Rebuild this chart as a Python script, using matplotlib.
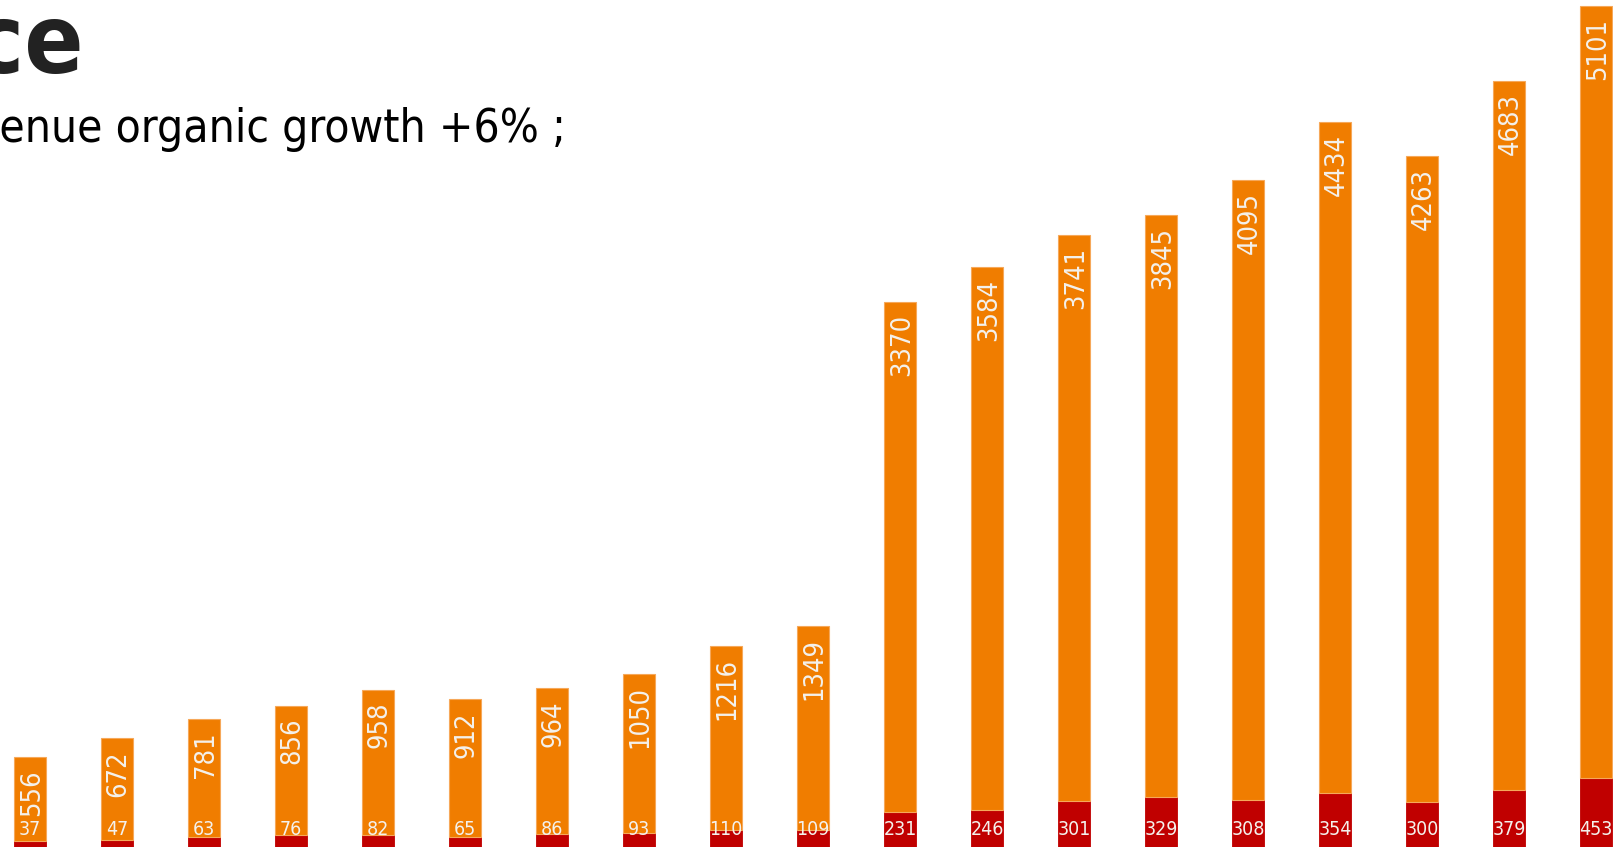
import matplotlib
matplotlib.use("Agg")
import matplotlib.pyplot as plt
import numpy as np

# Stacked values per period: upper (orange) and lower (red) segments
upper_values = [556, 672, 781, 856, 958, 912, 964, 1050, 1216, 1349,
                3370, 3584, 3741, 3845, 4095, 4434, 4263, 4683, 5101]
lower_values = [37, 47, 63, 76, 82, 65, 86, 93, 110, 109,
                231, 246, 301, 329, 308, 354, 300, 379, 453]

title_text = "Performance"
subtitle_text = "Revenue organic growth +6% ;"

ORANGE = "#F07D00"
RED = "#C00000"
LABEL = "#F4F1EC"

W, H, DPI = 1613, 847, 100
fig = plt.figure(figsize=(W / DPI, H / DPI), dpi=DPI)
ax = fig.add_axes([0, 0, 1, 1])
ax.set_axis_off()

x = np.arange(len(upper_values))
lower = np.array(lower_values)
upper = np.array(upper_values)
width = 0.364

ax.bar(x, lower, width, color=RED, edgecolor=RED, linewidth=0.6)
ax.bar(x, upper, width, bottom=lower, color=ORANGE, edgecolor="#F6A85A", linewidth=0.8)

ax.set_xlim(-0.347, 18.193)
ax.set_ylim(0, 5595)

label_font = dict(family="DejaVu Sans", stretch="condensed")

for xi, lo, up in zip(x, lower, upper):
    ax.annotate(f"{up}", (xi, lo + up), xytext=(1.5, -12), textcoords="offset pixels",
                rotation=90, ha="center", va="top", color=LABEL, fontsize=19.5,
                **label_font)
    ax.annotate(f"{lo}", (xi, 0), xytext=(0, 18), textcoords="offset pixels",
                ha="center", va="center", color=LABEL, fontsize=14, **label_font)

fig.text(84 / W, 1 - 73 / H, title_text, ha="right", va="baseline",
         fontsize=70, fontweight="bold", color="#222222",
         family="DejaVu Sans", stretch="condensed")
fig.text(566 / W, 1 - 142 / H, subtitle_text, ha="right", va="baseline",
         fontsize=33, color="#000000", family="DejaVu Sans", stretch="condensed")

fig.savefig("out.png", dpi=DPI)
